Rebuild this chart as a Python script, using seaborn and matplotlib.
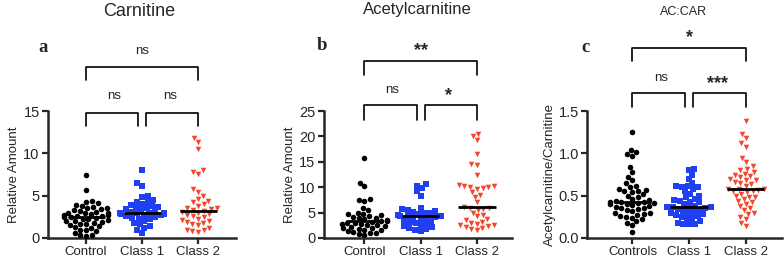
import numpy as np
import pandas as pd
import seaborn as sns
import matplotlib.pyplot as plt
import matplotlib.transforms as mtransforms

# ---- data ----
carn_control = [7.4, 5.7, 4.4, 4.3, 4.1, 3.9, 3.8, 3.7, 3.6, 3.5, 3.4, 3.3, 3.2, 3.1, 3.0, 3.0,
                2.9, 2.8, 2.7, 2.7, 2.6, 2.6, 2.5, 2.5, 2.4, 2.3, 2.2, 2.1, 2.0, 2.0, 1.9, 1.8,
                1.7, 1.6, 1.5, 1.4, 1.3, 1.2, 1.0, 0.9, 0.8, 0.6, 0.4, 0.3, 0.2]
carn_class1 = [8.0, 6.5, 6.2, 5.0, 4.8, 4.5, 4.3, 4.2, 4.0, 3.9, 3.8, 3.7, 3.6, 3.5, 3.4, 3.3,
               3.2, 3.1, 3.0, 3.0, 2.9, 2.9, 2.8, 2.8, 2.7, 2.7, 2.6, 2.5, 2.4, 2.3, 2.2, 2.0,
               1.8, 1.6, 1.4, 1.2, 1.0, 0.6]
carn_class2 = [11.8, 11.3, 10.5, 8.0, 7.8, 7.6, 5.8, 5.4, 5.0, 4.6, 4.4, 4.2, 4.0, 3.8, 3.6,
               3.5, 3.4, 3.3, 3.1, 3.0, 2.8, 2.7, 2.6, 2.5, 2.3, 2.1, 2.0, 1.9, 1.8, 1.6, 1.5,
               1.2, 1.0, 0.9, 0.8, 0.7, 3.2]

acet_control = [15.8, 10.9, 10.2, 7.6, 7.4, 7.2, 6.0, 5.5, 5.0, 4.8, 4.7, 4.5, 4.4, 4.2, 4.0,
                3.9, 3.7, 3.5, 3.4, 3.3, 3.2, 3.0, 2.9, 2.8, 2.7, 2.6, 2.5, 2.3, 2.2, 2.0, 1.9,
                1.8, 1.6, 1.5, 1.3, 1.2, 1.0, 0.9, 0.7, 0.5]
acet_class1 = [10.7, 10.3, 9.8, 9.2, 8.3, 6.0, 5.7, 5.5, 5.4, 5.2, 5.0, 4.9, 4.7, 4.5, 4.4,
               4.3, 4.3, 4.1, 4.0, 3.9, 3.7, 3.5, 3.3, 3.1, 3.0, 2.8, 2.5, 2.3, 2.1, 1.9, 1.7,
               1.5, 1.4]
acet_class2 = [20.5, 20.0, 19.2, 16.5, 14.5, 14.3, 12.5, 10.5, 10.3, 10.2, 10.1, 10.0, 9.8,
               9.6, 9.0, 8.5, 8.0, 7.0, 6.1, 6.0, 6.0, 5.8, 5.5, 5.0, 4.6, 4.3, 3.8, 3.5, 3.2,
               3.0, 2.8, 2.6, 2.5, 2.4, 2.2, 2.0, 1.8, 1.6]

ratio_control = [1.25, 1.04, 1.02, 0.99, 0.97, 0.84, 0.78, 0.72, 0.68, 0.65, 0.62, 0.60, 0.58,
                 0.57, 0.56, 0.55, 0.54, 0.52, 0.50, 0.48, 0.46, 0.45, 0.44, 0.43, 0.42, 0.42,
                 0.41, 0.41, 0.40, 0.40, 0.39, 0.38, 0.37, 0.36, 0.35, 0.34, 0.33, 0.32, 0.30,
                 0.29, 0.28, 0.27, 0.26, 0.25, 0.24, 0.22, 0.20, 0.18, 0.15, 0.07]
ratio_class1 = [0.82, 0.80, 0.75, 0.70, 0.65, 0.62, 0.61, 0.60, 0.60, 0.58, 0.55, 0.52, 0.50,
                0.48, 0.46, 0.45, 0.44, 0.43, 0.42, 0.40, 0.38, 0.37, 0.37, 0.37, 0.36, 0.35,
                0.34, 0.33, 0.32, 0.31, 0.30, 0.29, 0.28, 0.27, 0.26, 0.25, 0.24, 0.22, 0.20,
                0.18, 0.17, 0.16, 0.16]
ratio_class2 = [1.38, 1.23, 1.18, 1.12, 1.08, 0.95, 0.90, 0.85, 0.82, 0.80, 0.78, 0.76, 0.74,
                0.73, 0.72, 0.70, 0.69, 0.68, 0.66, 0.65, 0.64, 0.62, 0.58, 0.58, 0.58, 0.57,
                0.56, 0.55, 0.54, 0.52, 0.50, 0.49, 0.48, 0.46, 0.44, 0.42, 0.40, 0.38, 0.35,
                0.33, 0.30, 0.28, 0.25, 0.22, 0.18, 0.14]

cats_ab = ["Control", "Class 1", "Class 2"]
cats_c = ["Controls", "Class 1", "Class 2"]
colors = ["black", "#1f3ff0", "#f0482c"]
markers = ["o", "s", "v"]

panels = [
    dict(title="Carnitine", tsize=13, letter="a", cats=cats_ab,
         data=[carn_control, carn_class1, carn_class2], ylim=15, yticks=[0, 5, 10, 15],
         ylabel="Relative Amount", rect=[0.0612, 0.102, 0.240, 0.479], xlim=(-0.68, 2.68),
         inner=(0.984, 0.882), outer=(1.346, 1.244),
         marks=[("ns", 1.12, False), ("ns", 1.12, False), ("ns", 1.47, False)],
         title_y=0.955, title_x=139, letter_pos=(43, 0.82)),
    dict(title="Acetylcarnitine", tsize=12, letter="b", cats=cats_ab,
         data=[acet_control, acet_class1, acet_class2], ylim=25,
         yticks=[0, 5, 10, 15, 20, 25],
         ylabel="Relative Amount", rect=[0.413, 0.102, 0.240, 0.479], xlim=(-0.72, 2.62),
         inner=(1.047, 0.93), outer=(1.394, 1.283),
         marks=[("ns", 1.165, False), ("*", 1.12, True), ("**", 1.48, True)],
         title_y=0.965, title_x=417, letter_pos=(322, 0.83)),
    dict(title="AC:CAR", tsize=9, letter="c", cats=cats_c,
         data=[ratio_control, ratio_class1, ratio_class2], ylim=1.5,
         yticks=[0.0, 0.5, 1.0, 1.5],
         ylabel="Acetylcarnitine/Carnitine", rect=[0.749, 0.102, 0.249, 0.479],
         xlim=(-0.8, 2.65),
         inner=(1.142, 1.03), outer=(1.496, 1.394),
         marks=[("ns", 1.26, False), ("***", 1.22, True), ("*", 1.58, True)],
         title_y=0.955, title_x=684, letter_pos=(586, 0.82)),
]

sns.set_style("ticks")
plt.rcParams["font.family"] = ["Liberation Sans", "DejaVu Sans"]

fig = plt.figure(figsize=(7.84, 2.65), dpi=100)

for p in panels:
    ax = fig.add_axes(p["rect"])
    cats = p["cats"]
    for i, (vals, c, m) in enumerate(zip(p["data"], colors, markers)):
        df = pd.DataFrame({"group": cats[i], "value": vals})
        sns.swarmplot(data=df, x="group", y="value", order=cats, color=c, marker=m,
                      size=4.0, linewidth=0, ax=ax, warn_thresh=1)
        ax.hlines(np.median(vals), i - 0.33, i + 0.33, color="black", lw=2, zorder=5)

    ax.set_xlim(*p["xlim"])
    ax.set_ylim(0, p["ylim"])
    ax.set_yticks(p["yticks"])
    if p["letter"] == "c":
        ax.set_yticklabels([f"{t:.1f}" for t in p["yticks"]])
    ax.set_xlabel("")
    ax.set_ylabel(p["ylabel"], fontsize=9.5, labelpad=2)
    ax.tick_params(axis="x", labelsize=9.5, width=1.6, length=4, pad=2)
    ax.tick_params(axis="y", labelsize=10.5, width=1.6, length=4, pad=2)
    for s in ["left", "bottom"]:
        ax.spines[s].set_linewidth(1.8)
    sns.despine(ax=ax)

    # significance brackets (x in data, y in axes fraction)
    tr = mtransforms.blended_transform_factory(ax.transData, ax.transAxes)
    top, bot = p["inner"]
    ax.plot([0, 0, 0.93, 0.93], [bot, top, top, bot], color="black", lw=1.2,
            transform=tr, clip_on=False)
    ax.plot([1.07, 1.07, 2, 2], [bot, top, top, bot], color="black", lw=1.2,
            transform=tr, clip_on=False)
    top, bot = p["outer"]
    ax.plot([0, 0, 2, 2], [bot, top, top, bot], color="black", lw=1.2,
            transform=tr, clip_on=False)
    for (txt, yy, bold), xx in zip(p["marks"], [0.5, 1.5, 1.0]):
        ax.text(xx, yy, txt, transform=tr, ha="center", va="center",
                fontsize=13 if bold else 9.5, fontweight="bold" if bold else "normal")

    fig.text(p["title_x"] / 784, p["title_y"], p["title"], ha="center", va="center",
             fontsize=p["tsize"])
    lx, ly = p["letter_pos"]
    fig.text(lx / 784, ly, p["letter"], ha="center", va="center", fontsize=13.5,
             fontweight="bold", family=["Liberation Serif", "DejaVu Serif"])

fig.savefig("out.png", dpi=100)
